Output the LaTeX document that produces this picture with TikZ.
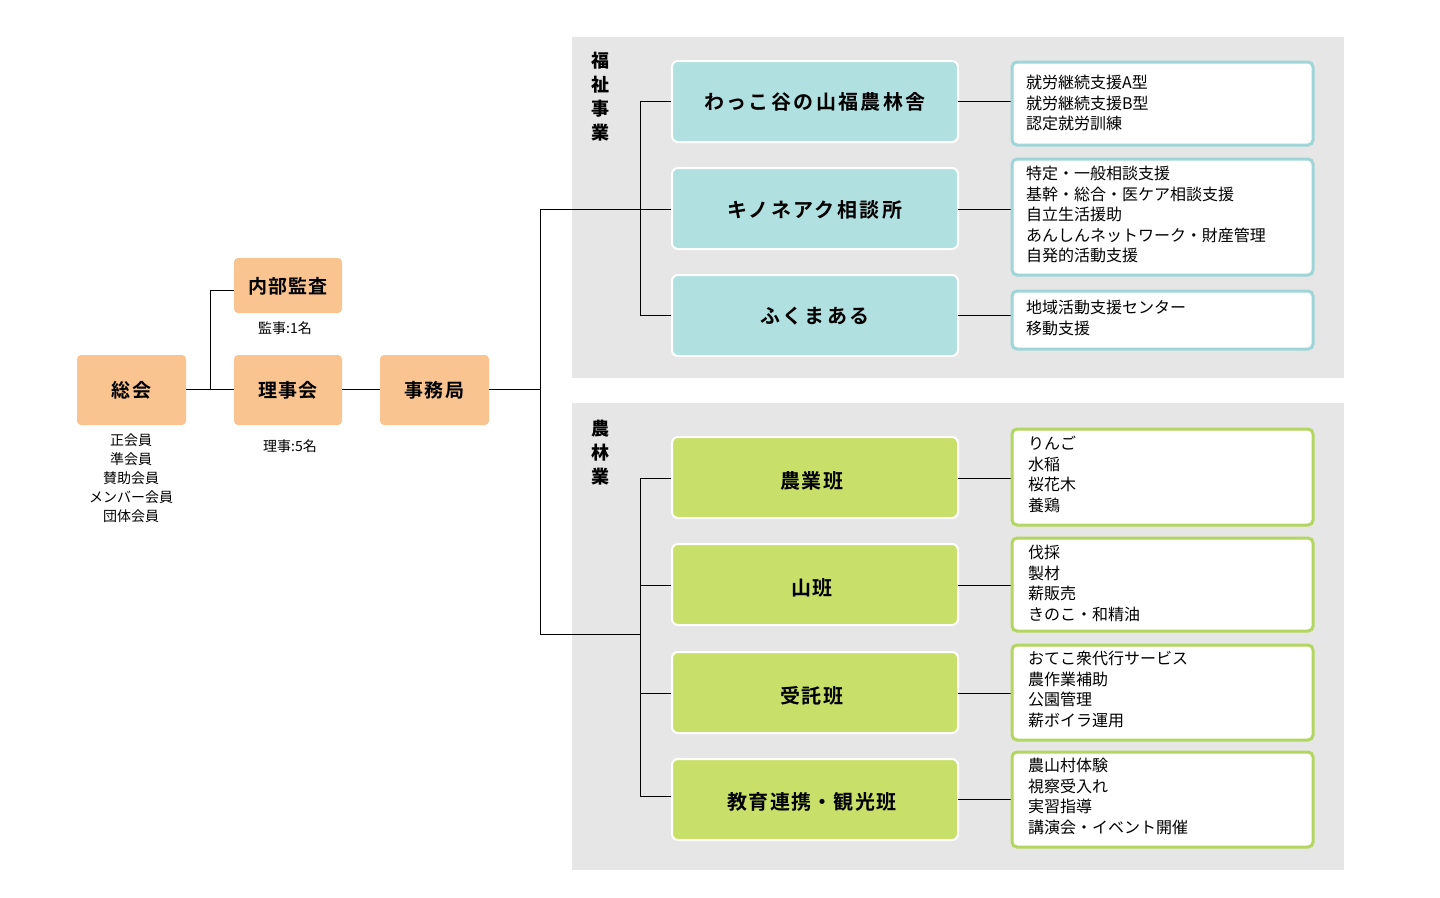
\documentclass[tikz,border=0pt]{standalone}
\usepackage{fontspec}
\setmainfont{Noto Sans CJK JP}
\newfontfamily\jpb[LetterSpace=12]{Noto Sans CJK JP Bold}
\newfontfamily\jpc[LetterSpace=6]{Noto Sans CJK JP Bold}
\begin{document}
\definecolor{org}{HTML}{F9C48F}
\definecolor{tea}{HTML}{B0E0E0}
\definecolor{teb}{HTML}{9FD4D9}
\definecolor{grn}{HTML}{C8E06A}
\definecolor{grb}{HTML}{B3D660}
\definecolor{pan}{HTML}{E6E6E6}
\begin{tikzpicture}[x=1pt,y=-1pt,
  ob/.style={fill=org,rounded corners=4pt,font=\jpc\fontsize{19}{19}\selectfont},
  tb/.style={fill=tea,draw=white,line width=2pt,rounded corners=6pt,font=\jpb\fontsize{20}{20}\selectfont},
  gb/.style={fill=grn,draw=white,line width=2pt,rounded corners=6pt,font=\jpc\fontsize{20}{20}\selectfont},
  rt/.style={fill=white,draw=teb,line width=3pt,rounded corners=5pt},
  rg/.style={fill=white,draw=grb,line width=3pt,rounded corners=5pt},
  lst/.style={anchor=north west,align=left,inner sep=0pt,font=\fontsize{16}{20.5}\selectfont},
  sm/.style={font=\fontsize{14}{19}\selectfont,align=center,inner sep=0pt},
  ln/.style={line width=1pt}]
\useasboundingbox (0,0) rectangle (1440,897);
\fill[pan] (572,37) rectangle (1344,378);
\fill[pan] (572,403) rectangle (1344,870);
\node[font=\bfseries\fontsize{18}{24}\selectfont,align=center,anchor=north,inner sep=0pt] (l1) at (600,52) {福\\祉\\事\\業};
\node[font=\bfseries\fontsize{18}{24}\selectfont,align=center,anchor=north,inner sep=0pt] (l2) at (600,420) {農\\林\\業};
% orange
\path[ob] (77,355) rectangle (186,425); \node (sk) at (131.5,390) {}; \node[font=\jpc\fontsize{19}{19}\selectfont] at (131.5,390) {総会};
\path[ob] (234,258) rectangle (342,313); \node[font=\jpc\fontsize{19}{19}\selectfont] (nb) at (288,286) {内部監査};
\path[ob] (234,355) rectangle (342,425); \node[font=\jpc\fontsize{19}{19}\selectfont] (rj) at (288,390) {理事会};
\path[ob] (380,355) rectangle (489,425); \node[font=\jpc\fontsize{19}{19}\selectfont] (jm) at (434.5,390) {事務局};
\node[sm] (t1) at (285,328) {監事:1名};
\node[sm] (t2) at (290,446) {理事:5名};
\node[sm,anchor=north] (t3) at (131,434) {正会員\\準会員\\賛助会員\\メンバー会員\\団体会員};
\coordinate (a1) at (186,389); \coordinate (a2) at (210,389); \coordinate (a3) at (210,290);
\draw[ln] (a1) -- (234,389);
\draw[ln] (a2) |- (234,290);
\draw[ln] (342,389) -- (380,389);
\draw[ln] (489,389) -- (540,389);
\draw[ln] (540,209) -- (540,634);
\draw[ln] (540,209) -- (672,209);
\draw[ln] (540,634) -- (640,634);
\draw[ln] (672,101) -| (640,315) -- (672,315);
\draw[ln] (672,478) -| (640,796) -- (672,796);
\draw[ln] (640,585) -- (672,585);
\draw[ln] (640,693) -- (672,693);
% teal
\foreach \y/\h/\t in {61/101/わっこ谷の山福農林舎,168/209/キノネアク相談所,275/315/ふくまある}{
  \draw[tb] (672,\y) rectangle (958,\y+81);
  \node[font=\jpb\fontsize{20}{20}\selectfont] at (815,\h+1) {\t};
  \draw[ln] (958,\h) -- (1012,\h);}
\draw[rt] (1012,62) rectangle (1313,145);
\node[lst] at (1026,75) {就労継続支援A型\\就労継続支援B型\\認定就労訓練};
\draw[rt] (1012,159) rectangle (1313,275);
\node[lst] at (1026,166) {特定・一般相談支援\\基幹・総合・医ケア相談支援\\自立生活援助\\あんしんネットワーク・財産管理\\自発的活動支援};
\draw[rt] (1012,291) rectangle (1313,349);
\node[lst] at (1026,300) {地域活動支援センター\\移動支援};
% green
\foreach \y/\h/\t in {437/478/農業班,544/585/山班,652/693/受託班,759/799/教育連携・観光班}{
  \draw[gb] (672,\y) rectangle (958,\y+81);
  \node[font=\jpc\fontsize{20}{20}\selectfont] at (812,\h+3) {\t};
  \draw[ln] (958,\h) -- (1012,\h);}
\draw[rg] (1012,429) rectangle (1313,525);
\node[lst] at (1028,436) {りんご\\水稲\\桜花木\\養鶏};
\draw[rg] (1012,538) rectangle (1313,631);
\node[lst] at (1028,545) {伐採\\製材\\薪販売\\きのこ・和精油};
\draw[rg] (1012,645) rectangle (1313,740);
\node[lst] at (1028,651) {おてこ衆代行サービス\\農作業補助\\公園管理\\薪ボイラ運用};
\draw[rg] (1012,752) rectangle (1313,847);
\node[lst] at (1028,758) {農山村体験\\視察受入れ\\実習指導\\講演会・イベント開催};
\end{tikzpicture}
\end{document}
